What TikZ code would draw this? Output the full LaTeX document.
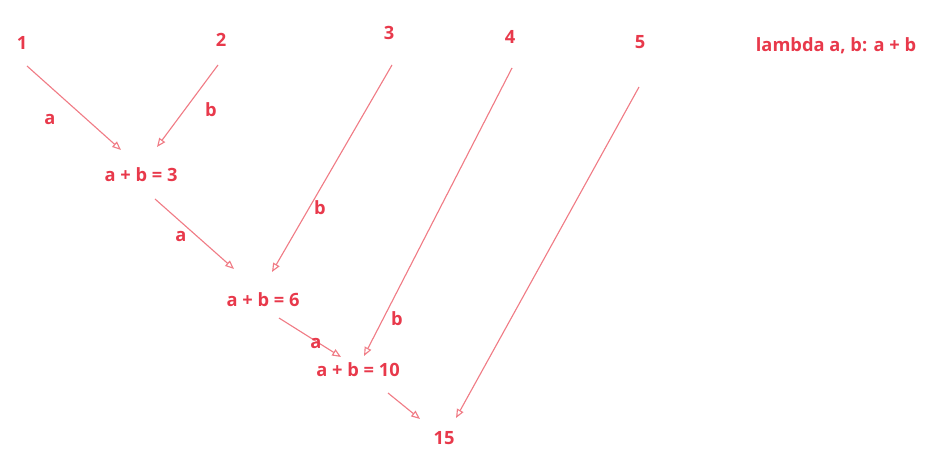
\documentclass[tikz,border=0pt]{standalone}
\usepackage{fontspec}
\setmainfont{Open Sans}
\usepackage{xcolor}
\usetikzlibrary{arrows.meta}
\definecolor{txtred}{HTML}{E8394B}
\definecolor{arrred}{HTML}{F07C86}

\begin{document}
\begin{tikzpicture}[x=0.025cm, y=-0.025cm,
  every node/.style={font=\fontsize{13}{15}\selectfont\bfseries, text=txtred},
  val/.style={inner sep=1pt},
  lbl/.style={inner sep=1pt},
  arr/.style={draw=arrred, line width=0.8pt, -{Triangle[open, length=2.2mm, width=1.8mm]}}]
\useasboundingbox (0,0) rectangle (927,464);
% inputs
\node[val] (n1) at (22,43) {1};
\node[val] (n2) at (221,40) {2};
\node[val] (n3) at (389,33) {3};
\node[val] (n4) at (510,37) {4};
\node[val] (n5) at (640,42) {5};
\node[val] (fn) at (836,46) {lambda a, b: a + b};
% partial sums
\node[val] (s1) at (141,175) {a + b = 3};
\node[val] (s2) at (263,300) {a + b = 6};
\node[val] (s3) at (358,370) {a + b = 10};
\node[val] (res) at (444,438) {15};
% edges
\draw[arr] ([shift={(5,23)}]n1.center) -- ([shift={(-20,-25)}]s1.center);
\draw[arr] ([shift={(-3,25)}]n2.center) -- ([shift={(16,-28)}]s1.center);
\draw[arr] ([shift={(14,24)}]s1.center) -- ([shift={(-29,-31)}]s2.center);
\draw[arr] ([shift={(3,32)}]n3.center) -- ([shift={(9,-28)}]s2.center);
\draw[arr] ([shift={(16,18)}]s2.center) -- ([shift={(-17,-13)}]s3.center);
\draw[arr] ([shift={(2,31)}]n4.center) -- ([shift={(6,-14)}]s3.center);
\draw[arr] ([shift={(30,23)}]s3.center) -- ([shift={(-24,-19)}]res.center);
\draw[arr] ([shift={(-1,45)}]n5.center) -- ([shift={(12,-20)}]res.center);
% labels
\node[lbl] (l1) at (50,120) {a};
\node[lbl] (l2) at (211,110) {b};
\node[lbl] (l3) at (181,236) {a};
\node[lbl] (l4) at (320,208) {b};
\node[lbl] (l5) at (316,343) {a};
\node[lbl] (l6) at (397,319) {b};
\end{tikzpicture}
\end{document}
